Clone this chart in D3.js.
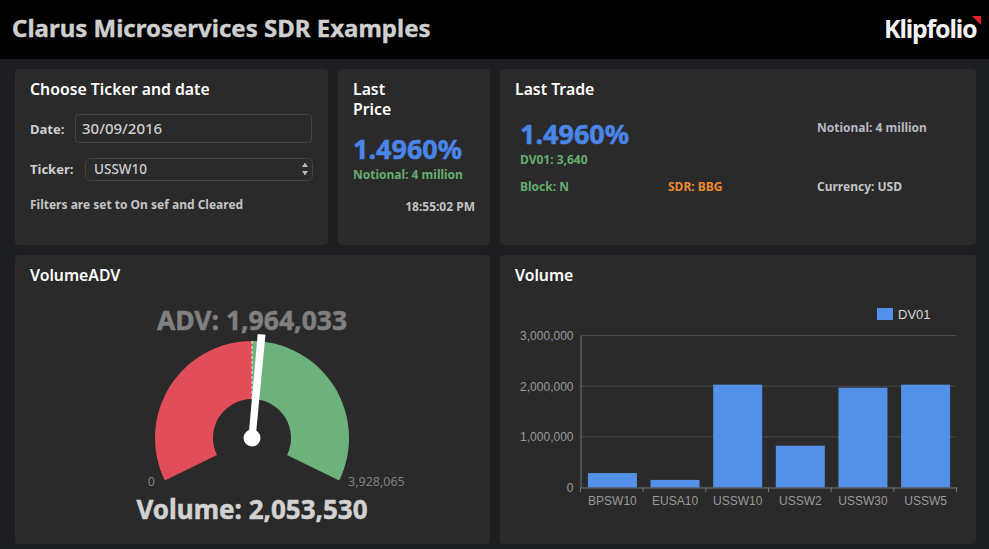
<!DOCTYPE html>
<html><head><meta charset="utf-8">
<script src="https://cdnjs.cloudflare.com/ajax/libs/d3/7.8.5/d3.min.js"></script>
<style>html,body{margin:0;padding:0;background:#1c1e21;overflow:hidden}svg{display:block}</style>
</head><body><svg id="c" width="989" height="549"></svg>
<script>
const categories=["BPSW10","EUSA10","USSW10","USSW2","USSW30","USSW5"];
const dv01Values=[285000,150000,2030000,825000,1970000,2030000];
const yTicks=[0,1000000,2000000,3000000];
const seriesName="DV01";
const gaugeMin=0, gaugeMax=3928065, gaugeAdv=1964033, gaugeVolume=2053530;
const titleText="Clarus Microservices SDR Examples";

const F="'Noto Sans',sans-serif", A="'Liberation Sans',Arial,sans-serif";
const svg=d3.select("#c");
function T(x,y,s,size,fill,opt={}){
  const t=svg.append("text").attr("x",x).attr("y",y).text(s)
   .attr("font-family",opt.family||F).attr("font-size",size).attr("fill",fill)
   .attr("font-weight",opt.weight||700).attr("text-anchor",opt.anchor||"start")
   .attr("letter-spacing",opt.ls||null);
  if(opt.heavy) t.attr("stroke",fill).attr("stroke-width",opt.heavy);
  return t;
}
svg.append("rect").attr("width",989).attr("height",59).attr("fill","#000");
[[15,69,313,176],[338,69,152,176],[500,69,476,176],[15,255,475,289],[500,255,476,289]].forEach(p=>
 svg.append("rect").attr("x",p[0]).attr("y",p[1]).attr("width",p[2]).attr("height",p[3]).attr("rx",4).attr("fill","#2a2a2a"));

T(12,37,titleText,24,"#cfcfcf",{heavy:0.4});
T(884,38,"Klipfolio",25,"#f2f2f2",{ls:"-1.2px"});
svg.append("path").attr("d",d3.line()([[972,16],[981,16],[981,25]])+"Z").attr("fill","#e0202c");

T(30,95,"Choose Ticker and date",15.8,"#fff",{weight:600});
T(30,134,"Date:",13,"#cfcfcf");
svg.append("rect").attr("x",75.5).attr("y",114.5).attr("width",236).attr("height",28).attr("rx",3).attr("fill","#2a2a2a").attr("stroke","#444");
T(82,134,"30/09/2016",15,"#cfcfcf",{weight:500});
T(30,174,"Ticker:",13,"#cfcfcf");
svg.append("rect").attr("x",85.5).attr("y",158.5).attr("width",227).attr("height",22).attr("rx",5).attr("fill","#2a2a2a").attr("stroke","#444");
T(94,174,"USSW10",13.5,"#cfcfcf",{weight:500});
svg.append("path").attr("d","M302 167l3-4.5 3 4.5zM302 171l3 4.5 3-4.5z").attr("fill","#bbb");
T(30,209,"Filters are set to On sef and Cleared",12,"#c4c4c4");

T(353,95,"Last",15.8,"#fff",{weight:600});
T(353,115,"Price",15.8,"#fff",{weight:600});
T(353,159,"1.4960%",27,"#4a86e8",{heavy:0.5});
T(353,179,"Notional: 4 million",12,"#67ad70");
T(475,211,"18:55:02 PM",12,"#c4c4c4",{anchor:"end"});

T(515,95,"Last Trade",15.8,"#fff",{weight:600});
T(520,144,"1.4960%",27,"#4a86e8",{heavy:0.5});
T(520,164,"DV01: 3,640",12,"#67ad70");
T(817,132,"Notional: 4 million",12,"#b5b9c4");
T(520,191,"Block: N",12,"#67ad70");
T(668,191,"SDR: BBG",12,"#ec8a32");
T(817,191,"Currency: USD",12,"#c4c4c4");

T(30,281,"VolumeADV",15.8,"#fff",{weight:600});
T(515,281,"Volume",15.8,"#fff",{weight:600});

// Gauge
const cx=252,cy=438,R=97,r=39,maxA=116*Math.PI/180;
const ang=d3.scaleLinear().domain([gaugeMin,gaugeMax]).range([-maxA,maxA]);
const arc=d3.arc().innerRadius(r).outerRadius(R);
const g=svg.append("g").attr("transform",`translate(${cx},${cy})`);
g.append("path").attr("d",arc({startAngle:ang(gaugeMin),endAngle:ang(gaugeAdv)})).attr("fill","#e14e5a");
g.append("path").attr("d",arc({startAngle:ang(gaugeAdv),endAngle:ang(gaugeMax)})).attr("fill","#6db27c");
const pol=(a,d)=>[d*Math.sin(a),-d*Math.cos(a)];
g.append("line").datum(ang(gaugeAdv)).attr("x1",a=>pol(a,r)[0]).attr("y1",a=>pol(a,r)[1]).attr("x2",a=>pol(a,R)[0]).attr("y2",a=>pol(a,R)[1])
 .attr("stroke","#e8e8e8").attr("stroke-width",1).attr("stroke-dasharray","3,2");
const na=ang(gaugeVolume);
const perp=[Math.cos(na),Math.sin(na)];
const tip=pol(na,104);
g.append("path").attr("d",d3.line()([[-perp[0]*3.6,-perp[1]*3.6],[tip[0]-perp[0]*3.9,tip[1]-perp[1]*3.9],[tip[0]+perp[0]*3.9,tip[1]+perp[1]*3.9],[perp[0]*3.6,perp[1]*3.6]])+"Z").attr("fill","#fff");
g.append("circle").attr("r",8.5).attr("fill","#fff");
T(252,330,"ADV: "+d3.format(",")(gaugeAdv),26.5,"#808080",{anchor:"middle",heavy:0.5});
T(252,519,"Volume: "+d3.format(",")(gaugeVolume),26,"#d2d2d2",{anchor:"middle",heavy:0.5});
T(155,486,d3.format(",")(gaugeMin),12.5,"#808080",{anchor:"end",weight:400});
T(348,486,d3.format(",")(gaugeMax),12.5,"#808080",{weight:400});

// Bars
const x=d3.scaleBand().domain(categories).range([581,957]).paddingInner(0.217).paddingOuter(0.11);
const y=d3.scaleLinear().domain([0,3000000]).range([487.5,335.5]);
const ch=svg.append("g");
ch.append("g").selectAll("line").data(yTicks.filter(d=>d>0)).join("line")
 .attr("x1",580.5).attr("x2",956.5).attr("y1",d=>y(d)).attr("y2",d=>y(d)).attr("stroke","#4a4a4a");
ch.append("g").selectAll("rect").data(dv01Values).join("rect")
 .attr("x",(d,i)=>x(categories[i])).attr("width",x.bandwidth()).attr("y",d=>y(d)).attr("height",d=>y(0)-y(d)).attr("fill","#5390e8");
const ax=ch.append("g").attr("transform","translate(0,487.5)").call(d3.axisBottom(x).tickSize(0));
ax.select(".domain").attr("stroke","#777");
ax.selectAll("text").attr("font-family",A).attr("font-size",12).attr("fill","#9a9a9a").attr("dy",null).attr("y",17);
ch.append("g").selectAll("line").data(d3.range(categories.length+1)).join("line")
 .attr("x1",i=>580.5+i*(376/categories.length)).attr("x2",i=>580.5+i*(376/categories.length)).attr("y1",487.5).attr("y2",492).attr("stroke","#777");
const ay=ch.append("g").attr("transform","translate(580.5,0)").call(d3.axisLeft(y).tickValues(yTicks).tickSize(0).tickFormat(d3.format(",")));
ay.select(".domain").attr("stroke","#777");
ay.selectAll("text").attr("font-family",A).attr("font-size",12).attr("fill","#9a9a9a").attr("x",-7);
svg.append("rect").attr("x",877).attr("y",308).attr("width",16).attr("height",12).attr("fill","#5390e8");
T(898,319,seriesName,13,"#d8d8d8",{family:A,weight:400});
</script></body></html>
